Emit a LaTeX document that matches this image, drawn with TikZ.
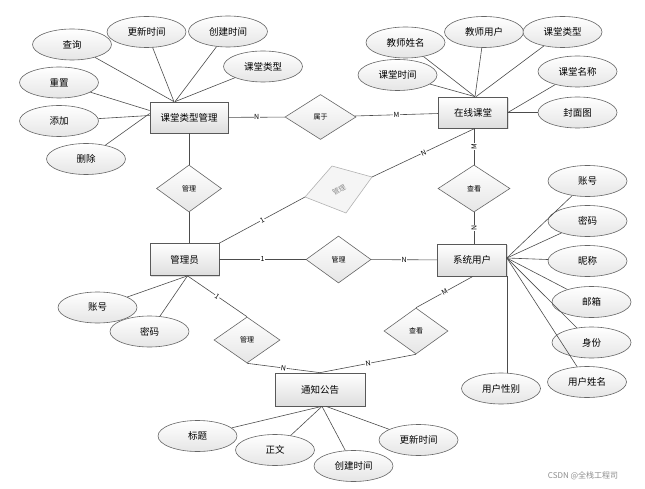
\documentclass[tikz,border=0pt]{standalone}
\usepackage{fontspec}
\setmainfont{Noto Sans CJK SC}
\usetikzlibrary{shapes.geometric,shadows}
\begin{document}
\begin{tikzpicture}[x=1pt,y=-1pt,
  ent/.style={rectangle, draw=black!65, line width=0.7pt, top color=white, bottom color=black!13,
    minimum width=69pt, minimum height=32pt, inner sep=0pt, font=\fontsize{9.5}{11}\selectfont,
    drop shadow={opacity=0.25,shadow xshift=1pt,shadow yshift=-1pt}},
  attr/.style={ellipse, draw=black!60, line width=0.6pt, top color=white, bottom color=black!10,
    minimum width=79pt, minimum height=31pt, inner sep=0pt, font=\fontsize{9.5}{11}\selectfont},
  rel/.style={diamond, draw=black!60, line width=0.6pt, top color=white, bottom color=black!10,
    minimum width=65pt, minimum height=47pt, inner sep=0pt, font=\fontsize{7}{8}\selectfont},
  lbl/.style={fill=white, inner sep=0.6pt, font=\fontsize{7}{8}\selectfont},
  conn/.style={draw=black!70, line width=0.6pt}]
\useasboundingbox (0,0) rectangle (645,489);

% entities
\node[ent, minimum width=78pt, minimum height=31pt] (ktm) at (189,117.5) {课堂类型管理};
\node[ent, minimum height=31pt] (olc) at (473,112.5) {在线课堂};
\node[ent] (adm) at (184.5,259.5) {管理员};
\node[ent] (su) at (472,260) {系统用户};
\node[ent, minimum width=90pt, minimum height=33pt] (tz) at (320,389.5) {通知公告};

% relations
\node[rel, minimum width=71pt, minimum height=45pt] (sy) at (320.5,117) {属于};
\node[rel] (gl1) at (189,188.5) {管理};
\node[rel, minimum width=72pt] (ck1) at (474,188.5) {查看};
\node[rel] (gl2) at (338.5,259.5) {管理};
\node[rel, minimum width=66pt, minimum height=46pt] (gl3) at (247,340) {管理};
\node[rel, minimum width=64pt, minimum height=46pt] (ck2) at (416,331) {查看};

% grey tilted relation
\coordinate (gd1) at (332,166);
\coordinate (gd2) at (372,177);
\coordinate (gd3) at (346,213);
\coordinate (gd4) at (305,197);
\fill[black!4] (gd1) -- (gd2) -- (gd3) -- (gd4) -- cycle;
\draw[black!30, line width=0.6pt] (gd1) -- (gd2) -- (gd3) -- (gd4) -- cycle;
\node[rotate=30, text=black!45, font=\fontsize{7}{8}\selectfont] (gdt) at (339,190) {管理};

% relation connectors
\draw[conn] (ktm) -- (sy) node[lbl, midway] {N};
\draw[conn] (sy) -- (olc) node[lbl, midway] {M};
\draw[conn] (ktm.south -| gl1.north) -- (gl1.north);
\draw[conn] (gl1.south) -- (gl1.south |- adm.north);
\draw[conn] (ck1.north) -- (ck1.north |- olc.south) node[lbl, midway, sloped] {M};
\draw[conn] (ck1.south |- su.north) -- (ck1.south) node[lbl, midway, sloped] {N};
\draw[conn] (adm) -- (gl2) node[lbl, midway] {1};
\draw[conn] (gl2) -- (su) node[lbl, midway] {N};
\draw[conn] (adm.north east) -- (gd4) node[lbl, midway, sloped] {1};
\draw[conn] (gd2) -- ([xshift=2pt]olc.south) node[lbl, midway, sloped] {N};
\draw[conn] ([xshift=3pt]adm.south) -- (gl3.north) node[lbl, midway, sloped] {1};
\draw[conn] (gl3.south) -- (tz.north) node[lbl, midway, sloped] {N};
\draw[conn] (ck2.north) -- ([xshift=1pt]su.south) node[lbl, midway, sloped] {M};
\draw[conn] (ck2.south) -- (tz.north) node[lbl, midway, sloped] {N};

% attributes of 课堂类型管理
\node[attr] (k1) at (72,44.5) {查询};
\node[attr] (k2) at (146.5,32) {更新时间};
\node[attr] (k3) at (228,31.5) {创建时间};
\node[attr] (k4) at (263,66.5) {课堂类型};
\node[attr] (k5) at (59,82.5) {重置};
\node[attr] (k6) at (59,121) {添加};
\node[attr] (k7) at (86,159) {删除};
\draw[conn] (k1) -- ([xshift=-15pt]ktm.north);
\draw[conn] (k2) -- ([xshift=-15pt]ktm.north);
\draw[conn] (k3) -- ([xshift=-14pt]ktm.north);
\draw[conn] (k4) -- ([xshift=-14pt]ktm.north);
\draw[conn] (k5) -- ([yshift=7pt]ktm.west);
\draw[conn] (k6) -- ([yshift=2pt]ktm.west);
\draw[conn] (k7) -- ([yshift=4pt]ktm.west);

% attributes of 在线课堂
\node[attr] (o1) at (405.5,42.5) {教师姓名};
\node[attr] (o2) at (484,32) {教师用户};
\node[attr] (o3) at (562.5,32) {课堂类型};
\node[attr] (o4) at (397.5,75) {课堂时间};
\node[attr] (o5) at (577.5,71.5) {课堂名称};
\node[attr] (o6) at (577.5,112.5) {封面图};
\draw[conn] (o1) -- ([xshift=2pt]olc.north);
\draw[conn] (o2) -- ([xshift=2pt]olc.north);
\draw[conn] (o3) -- ([xshift=3pt]olc.north);
\draw[conn] (o4) -- ([xshift=2pt]olc.north);
\draw[conn] (o5) -- (olc.east);
\draw[conn] (o6) -- (olc.east);

% attributes of 系统用户
\node[attr] (s1) at (587.5,181) {账号};
\node[attr] (s2) at (587.5,221) {密码};
\node[attr] (s3) at (587.5,261) {昵称};
\node[attr] (s4) at (591.5,302) {邮箱};
\node[attr] (s5) at (591.5,342.5) {身份};
\node[attr] (s6) at (587,382) {用户姓名};
\node[attr] (s7) at (501,388.5) {用户性别};
\foreach \s in {s1,s2,s3,s4,s5,s6} \draw[conn] (\s) -- ([yshift=2pt]su.east);
\draw[conn] (su.south east) -- (su.south east |- s7.north);

% attributes of 管理员
\node[attr] (m1) at (97.5,307.5) {账号};
\node[attr] (m2) at (149.5,331.5) {密码};
\draw[conn] (m1) -- ([xshift=3pt]adm.south);
\draw[conn] (m2) -- ([xshift=3pt]adm.south);

% attributes of 通知公告
\node[attr] (t1) at (197.5,436) {标题};
\node[attr] (t2) at (275,450) {正文};
\node[attr] (t3) at (353.5,466) {创建时间};
\node[attr] (t4) at (418.5,440) {更新时间};
\draw[conn] (t1) -- ([xshift=2pt]tz.south);
\draw[conn] (t2) -- ([xshift=2pt]tz.south);
\draw[conn] (t3) -- ([xshift=2pt]tz.south);
\draw[conn] (t4) -- ([xshift=6pt]tz.south);

% watermark
\node[text=black!45, font=\fontsize{8}{9}\selectfont] (wm) at (583,476) {CSDN @全栈工程司};
\end{tikzpicture}
\end{document}
